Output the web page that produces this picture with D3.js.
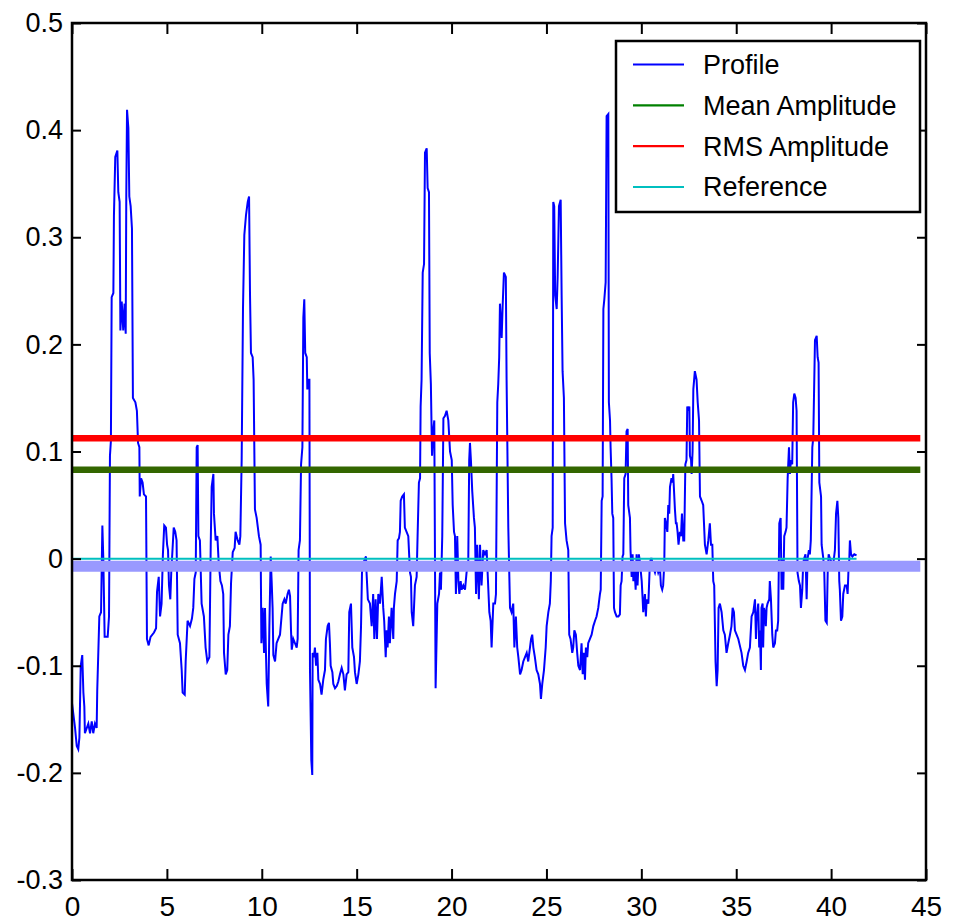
<!DOCTYPE html>
<html>
<head>
<meta charset="utf-8">
<script src="https://cdn.jsdelivr.net/npm/d3@7"></script>
<style>
  html, body { margin: 0; padding: 0; background: #ffffff; }
  svg { display: block; }
  text { font-family: "Liberation Sans", Arial, sans-serif; }
</style>
</head>
<body>
<svg id="chart" width="959" height="923"></svg>
<script>
// ---------------- data ----------------
const xTickValues = [0, 5, 10, 15, 20, 25, 30, 35, 40, 45];
const xTickLabels = ["0", "5", "10", "15", "20", "25", "30", "35", "40", "45"];
const yTickValues = [0.5, 0.4, 0.3, 0.2, 0.1, 0, -0.1, -0.2, -0.3];
const yTickLabels = ["0.5", "0.4", "0.3", "0.2", "0.1", "0", "-0.1", "-0.2", "-0.3"];

const seriesNames = ["Profile", "Mean Amplitude", "RMS Amplitude", "Reference"];
const meanAmplitude = 0.0829;
const rmsAmplitude = 0.1123;
const referenceLevel = 0;
const bandLevel = -0.0072;
const levelLineSpan = [0, 44.7];

const profile = [
[0.00,-0.135],[0.16,-0.158],[0.25,-0.175],[0.33,-0.178],[0.39,-0.167],[0.46,-0.100],[0.54,-0.090],[0.60,-0.125],[0.65,-0.138],[0.68,-0.163],[0.86,-0.154],[0.95,-0.163],[1.04,-0.152],[1.12,-0.163],[1.21,-0.154],[1.30,-0.158],[1.33,-0.123],[1.44,-0.054],[1.53,-0.050],[1.60,0.031],[1.65,0.000],[1.72,-0.073],[1.88,-0.073],[1.95,-0.054],[2.00,0.096],[2.05,0.110],[2.09,0.244],[2.18,0.248],[2.21,0.320],[2.28,0.375],[2.39,0.381],[2.44,0.342],[2.51,0.333],[2.55,0.213],[2.62,0.240],[2.70,0.213],[2.77,0.238],[2.83,0.210],[2.86,0.338],[2.90,0.419],[2.97,0.402],[3.02,0.338],[3.09,0.329],[3.16,0.308],[3.21,0.150],[3.34,0.146],[3.42,0.138],[3.48,0.108],[3.55,0.104],[3.57,0.058],[3.64,0.075],[3.72,0.071],[3.79,0.060],[3.90,0.058],[3.95,-0.075],[4.04,-0.081],[4.14,-0.073],[4.32,-0.069],[4.43,-0.065],[4.48,-0.031],[4.57,-0.017],[4.64,-0.054],[4.72,-0.042],[4.79,0.004],[4.86,0.031],[4.95,0.029],[5.01,0.013],[5.06,0.008],[5.11,-0.025],[5.18,-0.038],[5.23,-0.013],[5.36,0.029],[5.44,0.025],[5.51,0.017],[5.57,-0.071],[5.69,-0.079],[5.78,-0.104],[5.83,-0.125],[5.94,-0.127],[5.99,-0.096],[6.09,-0.058],[6.22,-0.063],[6.32,-0.056],[6.39,-0.046],[6.45,-0.019],[6.52,-0.013],[6.57,0.104],[6.62,0.106],[6.66,0.021],[6.74,0.017],[6.83,-0.042],[6.95,-0.054],[7.04,-0.083],[7.13,-0.096],[7.24,-0.092],[7.31,0.013],[7.36,0.067],[7.45,0.079],[7.48,0.042],[7.57,0.017],[7.66,0.021],[7.73,-0.004],[7.82,-0.021],[7.90,-0.025],[7.97,-0.033],[8.01,-0.088],[8.10,-0.108],[8.18,-0.104],[8.24,-0.071],[8.32,-0.063],[8.38,-0.023],[8.47,0.006],[8.57,0.010],[8.62,0.025],[8.73,0.017],[8.82,0.013],[8.87,0.021],[8.94,0.092],[9.01,0.233],[9.08,0.302],[9.17,0.321],[9.26,0.333],[9.33,0.338],[9.38,0.246],[9.43,0.192],[9.52,0.188],[9.57,0.167],[9.64,0.046],[9.73,0.038],[9.85,0.021],
[9.94,0.013],[9.98,-0.079],[10.05,-0.046],[10.12,-0.088],[10.17,-0.046],[10.22,-0.088],[10.26,-0.117],[10.34,-0.138],[10.40,-0.063],[10.47,0.002],[10.52,-0.021],[10.57,-0.046],[10.61,-0.090],[10.70,-0.096],[10.78,-0.079],[10.87,-0.075],[10.96,-0.071],[11.10,-0.042],[11.19,-0.038],[11.26,-0.042],[11.36,-0.033],[11.43,-0.029],[11.49,-0.035],[11.54,-0.067],[11.58,-0.085],[11.66,-0.075],[11.75,-0.079],[11.84,-0.083],[11.89,-0.075],[11.94,0.008],[12.01,0.017],[12.07,0.088],[12.14,0.104],[12.19,0.225],[12.24,0.242],[12.29,0.192],[12.37,0.188],[12.40,0.158],[12.45,0.167],[12.51,0.167],[12.54,-0.104],[12.61,-0.188],[12.66,-0.202],[12.68,-0.088],[12.75,-0.092],[12.80,-0.083],[12.86,-0.100],[12.93,-0.088],[12.98,-0.113],[13.07,-0.117],[13.15,-0.127],[13.24,-0.113],[13.33,-0.104],[13.38,-0.075],[13.47,-0.063],[13.54,-0.060],[13.59,-0.079],[13.63,-0.100],[13.72,-0.106],[13.77,-0.117],[13.86,-0.121],[13.95,-0.119],[14.03,-0.115],[14.12,-0.108],[14.21,-0.102],[14.30,-0.108],[14.38,-0.123],[14.47,-0.108],[14.56,-0.106],[14.61,-0.050],[14.70,-0.042],[14.77,-0.083],[14.86,-0.092],[14.91,-0.106],[15.00,-0.117],[15.09,-0.108],[15.17,-0.096],[15.23,-0.063],[15.28,-0.013],[15.35,-0.004],[15.44,0.000],[15.49,0.002],[15.52,-0.013],[15.59,-0.038],[15.70,-0.042],[15.79,-0.063],[15.87,-0.033],[15.93,-0.075],[16.00,-0.038],[16.07,-0.075],[16.14,-0.033],[16.23,-0.042],[16.32,-0.017],[16.40,-0.046],[16.45,-0.058],[16.53,-0.092],[16.58,-0.067],[16.63,-0.083],[16.70,-0.054],[16.75,-0.079],[16.84,-0.046],[16.93,-0.075],[16.96,-0.046],[17.02,-0.033],[17.11,-0.021],[17.16,0.017],[17.23,0.019],[17.28,0.025],[17.32,0.054],[17.40,0.058],[17.49,0.060],[17.54,0.029],[17.63,0.025],[17.72,0.021],[17.81,-0.013],[17.86,-0.017],[17.90,-0.050],[17.98,-0.063],[18.07,-0.025],[18.16,-0.017],[18.21,0.021],[18.28,0.071],[18.34,0.075],[18.37,0.142],[18.42,0.167],[18.48,0.267],[18.55,0.275],[18.60,0.379],[18.69,0.383],[18.74,0.346],[18.81,0.342],[18.85,0.192],[18.91,0.163],[18.97,0.096],[19.04,0.121],[19.09,0.129],[19.16,-0.121],
[19.25,-0.042],[19.34,-0.033],[19.39,-0.013],[19.44,-0.029],[19.51,0.021],[19.57,0.131],[19.65,0.133],[19.74,0.138],[19.83,0.129],[19.92,0.100],[20.01,0.092],[20.06,0.050],[20.13,0.025],[20.18,0.021],[20.23,-0.033],[20.30,0.021],[20.36,-0.021],[20.41,-0.033],[20.48,-0.021],[20.53,-0.029],[20.62,-0.025],[20.71,-0.029],[20.79,-0.013],[20.88,-0.004],[20.93,0.092],[20.97,0.108],[21.02,0.092],[21.09,0.063],[21.18,0.038],[21.23,0.029],[21.29,-0.033],[21.35,0.013],[21.44,-0.038],[21.50,0.013],[21.58,-0.025],[21.67,0.008],[21.76,0.004],[21.85,0.008],[21.90,-0.013],[21.99,-0.050],[22.06,-0.058],[22.11,-0.083],[22.20,-0.042],[22.29,-0.042],[22.34,-0.033],[22.41,0.146],[22.46,0.163],[22.51,0.188],[22.55,0.238],[22.64,0.206],[22.69,0.235],[22.76,0.267],[22.86,0.263],[22.90,0.167],[22.99,0.029],[23.08,-0.046],[23.16,-0.050],[23.25,-0.042],[23.31,-0.083],[23.39,-0.054],[23.46,-0.083],[23.52,-0.092],[23.61,-0.108],[23.69,-0.104],[23.78,-0.096],[23.87,-0.092],[23.96,-0.088],[24.04,-0.096],[24.19,-0.075],[24.25,-0.071],[24.31,-0.083],[24.39,-0.092],[24.48,-0.104],[24.57,-0.108],[24.66,-0.117],[24.71,-0.131],[24.78,-0.117],[24.87,-0.104],[24.96,-0.083],[25.01,-0.063],[25.10,-0.050],[25.18,-0.042],[25.23,-0.021],[25.27,0.021],[25.33,0.029],[25.36,0.333],[25.41,0.329],[25.46,0.246],[25.54,0.233],[25.59,0.263],[25.66,0.329],[25.75,0.335],[25.80,0.246],[25.85,0.175],[25.92,0.150],[25.98,0.033],[26.06,0.017],[26.15,0.008],[26.20,-0.071],[26.27,-0.075],[26.36,-0.088],[26.41,-0.083],[26.47,-0.067],[26.55,-0.071],[26.62,-0.088],[26.68,-0.100],[26.77,-0.104],[26.85,-0.079],[26.91,-0.108],[26.97,-0.088],[27.03,-0.113],[27.08,-0.083],[27.15,-0.092],[27.20,-0.079],
[27.38,-0.071],[27.47,-0.063],[27.56,-0.058],[27.64,-0.054],[27.73,-0.046],[27.82,-0.033],[27.86,-0.029],[27.91,0.054],[27.96,0.058],[28.00,0.233],[28.05,0.242],[28.12,0.258],[28.17,0.413],[28.26,0.415],[28.29,0.146],[28.35,0.129],[28.38,0.104],[28.43,0.075],[28.47,0.042],[28.52,0.038],[28.56,-0.046],[28.61,-0.050],[28.70,-0.054],[28.79,-0.054],[28.87,-0.052],[28.91,-0.025],[28.96,-0.021],[29.01,0.002],[29.05,0.004],[29.10,0.075],[29.17,0.079],[29.22,0.119],[29.28,0.121],[29.31,0.050],[29.40,0.038],[29.43,0.008],[29.49,-0.017],[29.54,0.004],[29.58,-0.021],[29.63,-0.004],[29.70,-0.029],[29.75,0.004],[29.80,-0.025],[29.87,0.004],[29.93,-0.004],[30.02,-0.021],[30.07,-0.038],[30.10,-0.050],[30.19,-0.033],[30.24,-0.054],[30.28,-0.038],[30.37,-0.042],[30.45,-0.004],[30.51,0.000],[30.54,0.000],[30.63,-0.008],[30.72,-0.013],[30.81,-0.006],[30.89,-0.013],[30.98,-0.008],[31.03,-0.025],[31.10,-0.029],[31.15,-0.025],[31.21,-0.004],[31.24,0.038],[31.30,0.033],[31.37,0.025],[31.42,0.050],[31.47,0.042],[31.51,0.067],[31.59,0.075],[31.65,0.071],[31.68,0.079],[31.77,0.046],[31.82,0.033],[31.86,0.033],[31.91,0.025],[31.96,0.013],[32.03,0.025],[32.09,0.021],[32.14,0.042],[32.21,0.017],[32.26,0.017],[32.32,0.088],[32.38,0.092],[32.42,0.142],[32.47,0.138],[32.53,0.142],[32.56,0.096],[32.62,0.092],[32.65,0.079],[32.70,0.100],[32.74,0.158],[32.82,0.175],[32.91,0.167],[32.97,0.146],[33.04,0.129],[33.09,0.058],[33.18,0.054],[33.26,0.050],[33.35,0.013],[33.44,0.004],[33.53,0.017],[33.61,0.033],[33.67,0.013],[33.74,0.013],[33.79,-0.021],[33.84,-0.025],[33.91,-0.096],[33.97,-0.119],[34.02,-0.104],[34.07,-0.046],[34.14,-0.042],[34.23,-0.050],[34.32,-0.067],[34.40,-0.071],[34.49,-0.088],[34.58,-0.079],[34.67,-0.071],[34.75,-0.063],[34.81,-0.046],[34.88,-0.050],[34.93,-0.067],[35.02,-0.071],[35.11,-0.075],
[35.28,-0.088],[35.37,-0.100],[35.46,-0.104],[35.55,-0.096],[35.63,-0.088],[35.72,-0.083],[35.81,-0.054],[35.90,-0.050],[35.99,-0.038],[36.04,-0.075],[36.07,-0.058],[36.16,-0.042],[36.21,-0.083],[36.25,-0.067],[36.30,-0.104],[36.33,-0.046],[36.39,-0.042],[36.42,-0.083],[36.46,-0.046],[36.51,-0.050],[36.56,-0.063],[36.60,-0.046],[36.65,-0.042],[36.74,-0.038],[36.77,-0.021],[36.83,-0.038],[36.90,-0.071],[36.95,-0.083],[37.04,-0.079],[37.09,-0.067],[37.16,-0.067],[37.21,-0.058],[37.27,0.033],[37.34,0.038],[37.39,-0.029],[37.44,0.000],[37.48,-0.029],[37.53,0.021],[37.60,0.025],[37.65,0.029],[37.71,0.075],[37.78,0.104],[37.83,0.079],[37.88,0.092],[37.95,0.088],[38.00,0.146],[38.06,0.154],[38.13,0.150],[38.18,0.138],[38.23,-0.013],[38.30,-0.021],[38.36,-0.025],[38.41,-0.046],[38.48,-0.029],[38.53,-0.004],[38.58,0.000],[38.65,0.004],[38.71,-0.038],[38.76,0.000],[38.83,0.008],[38.88,0.004],[38.93,0.017],[39.01,0.104],[39.06,0.113],[39.15,0.204],[39.24,0.208],[39.29,0.188],[39.34,0.183],[39.38,0.071],[39.47,0.058],[39.50,0.013],[39.59,0.000],[39.64,-0.013],[39.70,-0.058],[39.77,-0.060],[39.82,-0.013],[39.87,0.004],[39.94,0.000],[40.03,-0.004],[40.12,-0.004],[40.20,0.008],[40.26,0.042],[40.33,0.054],[40.38,0.038],[40.43,-0.021],[40.46,-0.029],[40.52,-0.058],[40.59,-0.054],[40.64,-0.033],[40.73,-0.025],[40.82,-0.025],[40.87,-0.033],[40.91,-0.013],[40.96,0.000],[40.99,0.017],[41.05,0.004],[41.12,0.002],[41.22,0.004],[41.34,0.003]
];

// ---------------- layout ----------------
const svg = d3.select("#chart");
const W = 959, H = 923;
const plot = { left: 72, right: 926, top: 23, bottom: 880 };
const FONT = 27;

const x = d3.scaleLinear().domain([0, 45]).range([plot.left, plot.right]);
const y = d3.scaleLinear().domain([-0.3, 0.5]).range([plot.bottom, plot.top]);

svg.append("rect").attr("width", W).attr("height", H).attr("fill", "#ffffff");

svg.append("defs").append("clipPath").attr("id", "clip")
  .append("rect").attr("x", plot.left).attr("y", plot.top)
  .attr("width", plot.right - plot.left).attr("height", plot.bottom - plot.top);

const g = svg.append("g").attr("clip-path", "url(#clip)");

const line = d3.line().x(d => x(d[0])).y(d => y(d[1]));

// profile
g.append("path").datum(profile)
  .attr("d", line).attr("fill", "none")
  .attr("stroke", "#0000ff").attr("stroke-width", 2).attr("stroke-linejoin", "miter");

const profileSpan = d3.extent(profile, d => d[0]);

function hline(value, span, color, width) {
  g.append("path")
    .datum([[span[0], value], [span[1], value]])
    .attr("d", line).attr("fill", "none")
    .attr("stroke", color).attr("stroke-width", width);
}
hline(meanAmplitude, levelLineSpan, "#336600", 6.5);
hline(rmsAmplitude, levelLineSpan, "#ff0000", 6.5);
hline(referenceLevel, profileSpan, "#00bfbf", 2);
hline(bandLevel, levelLineSpan, "#9999ff", 11);

// ---------------- axes ----------------
const axisStyle = sel => {
  sel.select(".domain").remove();
  sel.selectAll(".tick line").attr("stroke", "#000").attr("stroke-width", 2);
  sel.selectAll(".tick text").attr("fill", "#000")
    .attr("font-family", "'Liberation Sans', Arial, sans-serif")
    .attr("font-size", FONT);
};

const xLabel = d => xTickLabels[xTickValues.indexOf(d)];
const yLabel = d => yTickLabels[yTickValues.indexOf(d)];

const gx = svg.append("g").attr("transform", `translate(0,${plot.bottom})`)
  .call(d3.axisBottom(x).tickValues(xTickValues).tickFormat(xLabel)
        .tickSizeInner(-11).tickSizeOuter(0).tickPadding(21))
  .call(axisStyle);
gx.selectAll(".tick text")
  .attr("dy", null).attr("y", 36)
  .attr("font-size", 28);

svg.append("g").attr("transform", `translate(0,${plot.top})`)
  .call(d3.axisTop(x).tickValues(xTickValues).tickFormat("")
        .tickSizeInner(-11).tickSizeOuter(0))
  .call(axisStyle);

svg.append("g").attr("transform", `translate(${plot.left},0)`)
  .call(d3.axisLeft(y).tickValues(yTickValues).tickFormat(yLabel)
        .tickSizeInner(-9).tickSizeOuter(0).tickPadding(9))
  .call(axisStyle);

svg.append("g").attr("transform", `translate(${plot.right},0)`)
  .call(d3.axisRight(y).tickValues(yTickValues).tickFormat("")
        .tickSizeInner(-9).tickSizeOuter(0))
  .call(axisStyle);

svg.append("rect")
  .attr("x", plot.left).attr("y", plot.top)
  .attr("width", plot.right - plot.left).attr("height", plot.bottom - plot.top)
  .attr("fill", "none").attr("stroke", "#000").attr("stroke-width", 2.5);

// ---------------- legend ----------------
const legendColors = ["#0000ff", "#008000", "#ff0000", "#00bfbf"];
const legendBox = { x: 616, y: 41, w: 304, h: 171 };
const legend = svg.append("g");
legend.append("rect")
  .attr("x", legendBox.x).attr("y", legendBox.y)
  .attr("width", legendBox.w).attr("height", legendBox.h)
  .attr("fill", "#ffffff").attr("stroke", "#000").attr("stroke-width", 2.5);

const rowY = d3.scalePoint().domain(seriesNames).range([64.5, 187]);
const items = legend.selectAll("g.item").data(seriesNames).enter()
  .append("g").attr("class", "item")
  .attr("transform", d => `translate(0,${rowY(d)})`);
items.append("line")
  .attr("x1", 633).attr("x2", 684).attr("y1", 0).attr("y2", 0)
  .attr("stroke", (d, i) => legendColors[i]).attr("stroke-width", 2.2);
items.append("text")
  .attr("x", 703).attr("y", 0).attr("dy", "0.35em")
  .attr("font-size", FONT).attr("fill", "#000")
  .text(d => d);
</script>
</body>
</html>
